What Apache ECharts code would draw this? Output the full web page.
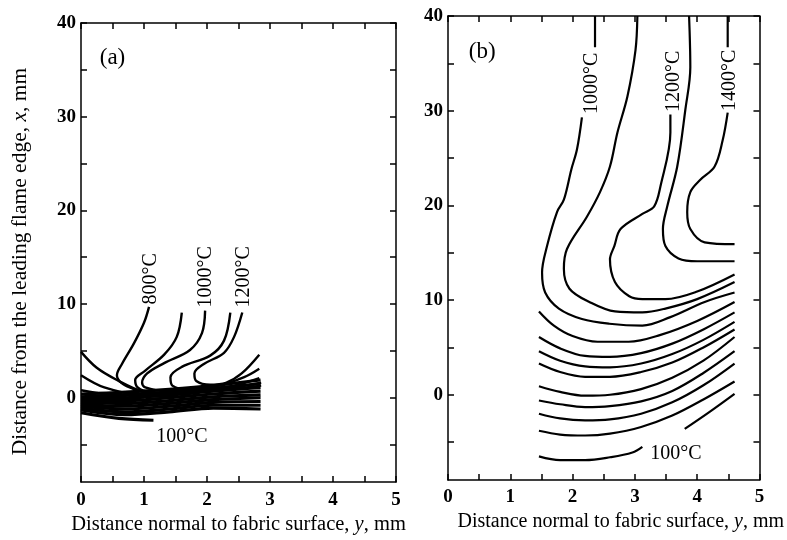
<!DOCTYPE html>
<html>
<head>
<meta charset="utf-8">
<script src="https://cdn.jsdelivr.net/npm/echarts@6/dist/echarts.min.js"></script>
<style>
  html, body { margin: 0; padding: 0; background: #fff; }
  #chart_container { width: 787px; height: 540px; }
</style>
</head>
<body>
<div id="chart_container"></div>
<script>
// points are [y (distance normal to fabric, mm), x (distance from flame edge, mm)]

// ---- panel (a) ----
var aEdge1 = [[0, 4.9], [0.25, 3.2], [0.57, 1.9], [1.0, 0.6], [1.4, 0.3]];
var aEdge2 = [[0, 2.4], [0.37, 1.1], [1.0, 0.2], [1.5, 0.1]];
var aEdge3 = [[0, 0.8], [0.44, 0.3], [1.0, -0.2]];
var a800 = [[1.08, 9.7], [1.0, 8.0], [0.84, 5.8], [0.65, 3.6], [0.57, 2.4], [0.64, 1.6], [0.85, 0.9], [1.1, 0.5], [1.6, 0.5], [2.2, 0.8], [2.86, 1.3]];
var a900 = [[1.6, 9.1], [1.52, 6.5], [1.32, 4.6], [1.02, 2.9], [0.86, 1.9], [0.9, 1.1], [1.1, 0.6], [1.5, 0.5], [2.2, 0.9], [2.86, 1.6]];
var a1000 = [[1.97, 9.3], [1.92, 6.9], [1.73, 5.1], [1.32, 3.7], [1.05, 2.6], [0.97, 1.6], [1.02, 1.1], [1.35, 0.7], [1.9, 0.8], [2.43, 1.3], [2.83, 2.1]];
var a1100 = [[2.37, 9.1], [2.27, 6.1], [2.05, 4.5], [1.6, 3.3], [1.42, 2.2], [1.45, 1.3], [1.71, 0.9], [2.19, 1.3], [2.59, 2.2], [2.83, 3.1]];
var a1200 = [[2.56, 9.1], [2.43, 6.5], [2.27, 4.8], [1.95, 3.6], [1.8, 2.6], [1.83, 1.8], [2.05, 1.4], [2.3, 1.6], [2.55, 2.6], [2.83, 4.6]];
// the dark band of closely packed low-temperature contours
var aBand = [
  [[0, 0.4], [0.7, 0.6], [1.4, 0.9], [2.1, 1.3], [2.85, 1.9]],
  [[0, 0.1], [0.7, 0.3], [1.4, 0.6], [2.1, 1.0], [2.85, 1.5]],
  [[0, -0.1], [0.7, 0.0], [1.4, 0.3], [2.1, 0.7], [2.85, 1.1]],
  [[0, -0.3], [0.7, -0.3], [1.4, 0.0], [2.1, 0.4], [2.85, 0.7]],
  [[0, -0.5], [0.7, -0.6], [1.4, -0.3], [2.1, 0.1], [2.85, 0.3]],
  [[0, -0.7], [0.7, -0.9], [1.4, -0.6], [2.1, -0.2], [2.85, 0.0]],
  [[0, -0.9], [0.7, -1.2], [1.4, -0.9], [2.1, -0.5], [2.85, -0.4]],
  [[0, -1.1], [0.7, -1.5], [1.4, -1.2], [2.1, -0.8], [2.85, -0.8]],
  [[0, -1.3], [0.7, -1.8], [1.4, -1.5], [2.1, -1.1], [2.85, -1.2]],
  [[0, -1.6], [0.6, -2.2], [1.15, -2.4]]
];
var aLabels = [
  { name: '800°C', value: [1.11, 12.7], rotate: 90 },
  { name: '1000°C', value: [1.98, 12.9], rotate: 90 },
  { name: '1200°C', value: [2.59, 12.9], rotate: 90 },
  { name: '100°C', value: [1.6, -4.2], rotate: 0 },
  { name: '(a)', value: [0.5, 36.3], rotate: 0 }
];

// ---- panel (b) ----
var b1000top = [[2.36, 40], [2.36, 36.7]];
var b1000 = [[2.15, 29.3], [2.07, 25.9], [1.98, 23.8], [1.86, 20.6], [1.75, 19.3], [1.59, 15.7], [1.51, 12.9], [1.56, 10.8], [1.78, 9.1], [2.15, 8.0], [2.59, 7.5], [3.12, 7.3], [3.57, 8.2], [4.12, 9.8], [4.6, 10.8]];
var b1100 = [[3.04, 40], [3.01, 36.4], [2.88, 31.5], [2.72, 27.7], [2.6, 24.1], [2.44, 21.4], [2.23, 18.8], [1.91, 15.4], [1.86, 13.3], [1.95, 11.2], [2.27, 9.8], [2.68, 8.8], [3.12, 8.7], [3.49, 9.1], [4.0, 10.1], [4.6, 11.9]];
var b1200 = [[3.57, 29.6], [3.57, 27.7], [3.41, 22.0], [3.31, 19.9], [3.12, 19.1], [2.77, 17.5], [2.67, 15.7], [2.6, 14.3], [2.68, 11.9], [2.91, 10.4], [3.12, 10.1], [3.49, 10.1], [4.0, 10.9], [4.6, 12.7]];
var b1300 = [[3.87, 40], [3.89, 34.6], [3.81, 30.1], [3.68, 24.1], [3.52, 19.9], [3.45, 17.5], [3.49, 15.7], [3.7, 14.4], [4.0, 14.1], [4.6, 14.1]];
var b1400top = [[4.49, 40], [4.49, 36.7]];
var b1400 = [[4.49, 29.8], [4.41, 26.9], [4.28, 24.1], [4.05, 22.7], [3.89, 21.4], [3.84, 19.3], [3.89, 17.5], [4.12, 16.1], [4.6, 15.9]];
var bLower = [
  [[1.46, 8.8], [1.7, 7.3], [2.0, 6.2], [2.4, 5.6], [2.9, 5.6], [3.4, 6.3], [4.0, 7.8], [4.6, 9.8]],
  [[1.46, 6.1], [1.8, 4.9], [2.2, 4.1], [2.6, 4.0], [3.1, 4.4], [3.6, 5.4], [4.1, 6.9], [4.6, 8.7]],
  [[1.46, 4.6], [1.8, 3.6], [2.2, 3.0], [2.6, 2.9], [3.1, 3.3], [3.6, 4.3], [4.1, 5.8], [4.6, 7.7]],
  [[1.46, 3.3], [1.8, 2.4], [2.2, 1.9], [2.6, 1.9], [3.1, 2.4], [3.6, 3.4], [4.1, 5.0], [4.6, 6.9]],
  [[1.46, 0.9], [1.8, 0.3], [2.2, -0.1], [2.6, 0.0], [3.1, 0.6], [3.6, 1.8], [4.1, 3.6], [4.6, 6.1]],
  [[1.46, -0.6], [1.8, -1.0], [2.2, -1.3], [2.6, -1.2], [3.1, -0.7], [3.6, 0.4], [4.1, 2.3], [4.6, 4.6]],
  [[1.46, -2.0], [1.8, -2.5], [2.2, -2.7], [2.6, -2.6], [3.1, -2.0], [3.6, -0.8], [4.1, 1.0], [4.6, 3.3]],
  [[1.46, -3.8], [1.8, -4.2], [2.2, -4.3], [2.6, -4.1], [3.1, -3.4], [3.6, -2.2], [4.1, -0.5], [4.6, 1.4]],
  [[1.46, -6.5], [1.8, -6.9], [2.2, -6.9], [2.6, -6.6], [2.96, -6.1], [3.12, -5.5]],
  [[3.8, -3.6], [4.2, -1.8], [4.6, 0.1]]
];
var bLabels = [
  { name: '1000°C', value: [2.3, 32.9], rotate: 90 },
  { name: '1200°C', value: [3.62, 33.1], rotate: 90 },
  { name: '1400°C', value: [4.53, 33.2], rotate: 90 },
  { name: '100°C', value: [3.66, -6.2], rotate: 0 },
  { name: '(b)', value: [0.55, 36.2], rotate: 0 }
];

var xTicks = [0, 0.5, 1, 1.5, 2, 2.5, 3, 3.5, 4, 4.5, 5];
var yTicks = [-5, 0, 5, 10, 15, 20, 25, 30, 35, 40];
var yTickLabels = [0, 10, 20, 30, 40];

var SERIF = 'Liberation Serif';
var dom = document.getElementById('chart_container');
var myChart = echarts.init(dom, null, { renderer: 'canvas' });

function xAx(grid, pos, name, size, pad) {
  return {
    gridIndex: grid, type: 'value', position: pos, min: 0, max: 5, interval: 1,
    axisLine: { onZero: false, lineStyle: { color: '#000', width: 1.5 } },
    axisTick: { inside: true, length: 6, customValues: xTicks, lineStyle: { color: '#000', width: 1.5 } },
    axisLabel: { show: pos === 'bottom', color: '#000', fontFamily: SERIF, fontSize: 19, fontWeight: 'bold', margin: 8 },
    splitLine: { show: false },
    name: name, nameLocation: 'middle', nameGap: 29,
    nameTextStyle: {
      color: '#000', fontFamily: SERIF, fontSize: size, padding: pad,
      rich: { i: { fontFamily: SERIF, fontSize: size, fontStyle: 'italic', color: '#000' } }
    }
  };
}
function yAx(grid, pos, name) {
  return {
    gridIndex: grid, type: 'value', position: pos, min: -9, max: 40,
    axisLine: { onZero: false, lineStyle: { color: '#000', width: 1.5 } },
    axisTick: { inside: true, length: 6, customValues: yTicks, lineStyle: { color: '#000', width: 1.5 } },
    axisLabel: { show: pos === 'left', customValues: yTickLabels, color: '#000', fontFamily: SERIF, fontSize: 19, fontWeight: 'bold', margin: 5 },
    splitLine: { show: false },
    name: name, nameLocation: 'middle', nameGap: 50,
    nameTextStyle: {
      color: '#000', fontFamily: SERIF, fontSize: 21.5, padding: [0, 18, 0, 0],
      rich: { i: { fontFamily: SERIF, fontSize: 21.5, fontStyle: 'italic', color: '#000' } }
    }
  };
}

var series = [];
function addLine(data, xi, w) {
  series.push({
    type: 'line', xAxisIndex: xi, yAxisIndex: xi, data: data,
    showSymbol: false, smooth: 0.35, silent: true,
    lineStyle: { color: '#000', width: w }
  });
}
[aEdge1, aEdge2, aEdge3, a800, a900, a1000, a1100, a1200].forEach(function (d) { addLine(d, 0, 2.4); });
aBand.forEach(function (d) { addLine(d, 0, 3.2); });
[b1000top, b1000, b1100, b1200, b1300, b1400top, b1400].forEach(function (d) { addLine(d, 2, 2.2); });
bLower.forEach(function (d) { addLine(d, 2, 2.2); });

function addLabels(list, xi) {
  series.push({
    type: 'scatter', xAxisIndex: xi, yAxisIndex: xi, symbolSize: 1, silent: true,
    itemStyle: { color: 'rgba(0,0,0,0)' },
    data: list.map(function (l) {
      var big = l.name.charAt(0) === '(';
      return {
        name: l.name, value: l.value,
        label: { rotate: l.rotate, fontSize: big ? 23 : 20, color: '#000', opacity: 1 }
      };
    }),
    label: { show: true, position: 'inside', formatter: '{b}', color: '#000', fontFamily: SERIF, fontSize: 20 }
  });
}
addLabels(aLabels, 0);
addLabels(bLabels, 2);

var option = {
  animation: false,
  backgroundColor: '#fff',
  grid: [
    { left: 81, top: 23, width: 315, height: 460 },
    { left: 448, top: 16, width: 315, height: 464 }
  ],
  xAxis: [
    xAx(0, 'bottom', 'Distance normal to fabric surface, {i|y}, mm', 20.5, 0),
    xAx(0, 'top', '', 20, 0),
    xAx(1, 'bottom', 'Distance normal to fabric surface, {i|y}, mm', 20, [0, 0, 0, 34]),
    xAx(1, 'top', '', 20, 0)
  ],
  yAxis: [
    yAx(0, 'left', 'Distance from the leading flame edge, {i|x}, mm'),
    yAx(0, 'right', ''),
    yAx(1, 'left', ''),
    yAx(1, 'right', '')
  ],
  series: series
};

myChart.setOption(option);
window.addEventListener('resize', myChart.resize);
</script>
</body>
</html>
